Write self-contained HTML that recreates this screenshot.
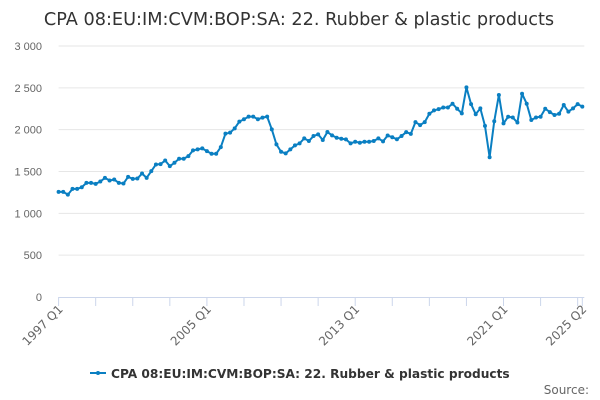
<!DOCTYPE html>
<html><head><meta charset="utf-8"><style>
body{margin:0;background:#fff;}
svg{display:block;font-family:"Liberation Sans",sans-serif;}
.dv{font-family:"DejaVu Sans","Liberation Sans",sans-serif;}
</style></head><body>
<svg id="chart" width="600" height="400">
<text class="dv" x="299" y="25" text-anchor="middle" font-size="17.7" fill="#333">CPA 08:EU:IM:CVM:BOP:SA: 22. Rubber &amp; plastic products</text>
<g id="grid"></g><g id="xaxis"></g><g id="series"></g>
<g>
<line x1="90" y1="373" x2="106" y2="373" stroke="#0a7fc2" stroke-width="2"/>
<circle cx="98" cy="373" r="2" fill="#0a7fc2"/>
<text class="dv" x="111" y="378" font-size="12.2" font-weight="bold" fill="#333">CPA 08:EU:IM:CVM:BOP:SA: 22. Rubber &amp; plastic products</text>
</g>
<text class="dv" x="589" y="394" text-anchor="end" font-size="12" fill="#666">Source:</text>
</svg>
<script>
const values=[1256,1256,1224,1292,1292,1312,1364,1364,1352,1380,1424,1392,1404,1364,1356,1436,1412,1416,1476,1424,1504,1584,1588,1632,1564,1604,1652,1652,1684,1752,1764,1776,1744,1712,1712,1792,1952,1964,2016,2096,2124,2156,2156,2124,2144,2156,2004,1824,1736,1716,1764,1812,1836,1896,1864,1924,1944,1876,1972,1932,1904,1892,1884,1836,1856,1844,1856,1856,1864,1896,1860,1930,1910,1885,1925,1970,1950,2090,2055,2090,2190,2230,2245,2265,2265,2310,2250,2195,2505,2305,2185,2255,2045,1670,2100,2415,2075,2155,2145,2085,2430,2310,2115,2145,2155,2250,2210,2175,2190,2295,2215,2255,2305,2275];
const yTicks=[0,500,1000,1500,2000,2500,3000];
const yTickLabels=["0","500","1 000","1 500","2 000","2 500","3 000"];
const xLabelIdx=[0,32,64,96,113];
const xLabels=["1997 Q1","2005 Q1","2013 Q1","2021 Q1","2025 Q2"];
const NS="http://www.w3.org/2000/svg";
const x0=58.6,x1=582.3,yB=297,yT=46,yMax=3000;
const xs=i=>x0+(x1-x0)*i/(values.length-1);
const ys=v=>yB-(yB-yT)*v/yMax;
function mk(tag,attrs,parent){const e=document.createElementNS(NS,tag);for(const k in attrs)e.setAttribute(k,attrs[k]);parent.appendChild(e);return e;}
const grid=document.getElementById('grid');
yTicks.forEach((t,k)=>{
  if(t>0){const l=mk('line',{x1:x0,x2:x1+2,y1:ys(t),y2:ys(t),stroke:'#e6e6e6','stroke-width':1},grid);
  
  }
  const tx=mk('text',{x:42,y:ys(t)+4,'text-anchor':'end','font-size':11,fill:'#666'},grid);
  tx.textContent=yTickLabels[k];
  
  
});
const xa=document.getElementById('xaxis');
const ax=mk('line',{x1:x0,x2:x1+2,y1:yB+0.5,y2:yB+0.5,stroke:'#ccd6eb','stroke-width':1},xa);


for(let i=0;i<values.length;i+=8){
  const t=mk('line',{x1:xs(i),x2:xs(i),y1:yB,y2:yB+9,stroke:'#ccd6eb'},xa);
  
  
}
const lt=mk('line',{x1:xs(values.length-1),x2:xs(values.length-1),y1:yB,y2:yB+9,stroke:'#ccd6eb'},xa);


xLabelIdx.forEach((idx,k)=>{
  const x=xs(idx)+5, y=yB+13;
  const tx=mk('text',{x:x,y:y,'text-anchor':'end','font-size':12,fill:'#666','class':'dv',transform:`rotate(-45 ${x} ${y})`},xa);
  tx.textContent=xLabels[k];
  
  
});
const sg=document.getElementById('series');
const p=mk('path',{d:values.map((v,i)=>(i?'L':'M')+xs(i).toFixed(2)+','+ys(v).toFixed(2)).join(''),fill:'none',stroke:'#0a7fc2','stroke-width':2,'stroke-linejoin':'round'},sg);


values.forEach((v,i)=>{
  const c=mk('circle',{cx:xs(i),cy:ys(v),r:2,fill:'#0a7fc2'},sg);
  
  
});
</script>
</body></html>
